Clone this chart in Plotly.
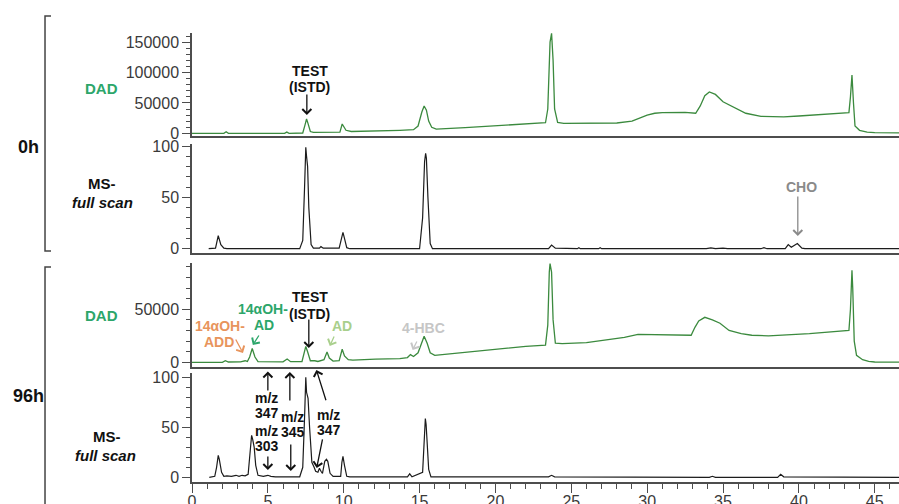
import plotly.graph_objects as go

# ---------------- data (retention time in min, signal) ----------------
t_dad_0h = [0, 2.1, 2.25, 2.4, 6.1, 6.25, 6.4, 7.3, 7.45, 7.55, 7.65, 7.8, 8.0,
            9.75, 9.9, 10.0, 10.15, 10.5, 12.0, 13.7, 14.6, 14.9, 15.15, 15.3, 15.45,
            15.6, 15.8, 16.1, 18.0, 20.0, 22.0, 23.3, 23.45, 23.6, 23.7, 23.8, 23.9,
            24.1, 24.5, 26.0, 28.0, 29.0, 29.5, 30.0, 30.5, 31.0, 32.5, 33.2, 33.5,
            33.8, 34.1, 34.5, 35.0, 35.8, 36.5, 37.5, 39.0, 40.0, 42.0, 43.3, 43.4,
            43.5, 43.6, 43.7, 44.0, 44.5, 45.0, 46.6]
dad_0h = [0, 0, 2500, 0, 0, 2000, 0, 500, 14000, 23500, 16000, 3000, 1500,
          2000, 15300, 11000, 5000, 3000, 3500, 5000, 6000, 12000, 35000, 45000, 38000,
          20000, 10000, 6800, 9500, 12500, 15500, 17400, 40000, 150000, 164500, 120000, 40000,
          18000, 16500, 16500, 17000, 20000, 25000, 30000, 33000, 34000, 34500, 33000, 45000,
          62000, 68000, 64000, 52000, 41500, 33000, 28000, 27000, 28500, 32000, 34000, 60000,
          96000, 50000, 12000, 5000, 2000, 1000, 800]

t_ms_0h = [1.1, 1.55, 1.73, 1.9, 2.1, 2.3, 7.1, 7.3, 7.42, 7.5, 7.55, 7.62, 7.7, 7.85,
           8.0, 8.4, 8.5, 8.65, 9.7, 9.85, 9.95, 10.05, 10.2, 10.4, 15.0, 15.2, 15.33,
           15.4, 15.45, 15.55, 15.7, 15.85, 23.5, 23.7, 23.95, 25.4, 25.5, 25.6, 26.8,
           26.9, 27.0, 33.9, 34.2, 34.5, 35.0, 35.3, 37.5, 37.7, 37.9, 39.1, 39.3, 39.5,
           39.9, 40.2, 40.4, 46.6]
ms_0h = [0, 0.5, 12.7, 4, 0.5, 0, 0, 8, 60, 98.7, 90, 80, 40, 4,
         0.5, 0.5, 2, 0.5, 0.5, 10, 16, 10, 1, 0, 0, 30, 85,
         93, 88, 50, 5, 0, 0, 3.6, 0.5, 0, 1, 0, 0,
         1, 0, 0, 0.8, 0, 0.5, 0, 0, 1, 0, 0, 4, 1.5,
         5, 0.5, 0, 0]

t_dad_96h = [0, 2.0, 2.2, 2.4, 3.2, 3.5, 3.65, 3.8, 3.97, 4.15, 4.35, 6.0, 6.27, 6.5,
             7.25, 7.4, 7.5, 7.62, 7.8, 8.1, 8.3, 8.7, 8.9, 9.05, 9.3, 9.7, 9.9, 10.05,
             10.3, 10.6, 12.1, 13.7, 14.2, 14.4, 14.6, 14.9, 15.15, 15.3, 15.5, 15.7,
             16.0, 18.0, 20.0, 22.0, 23.3, 23.45, 23.55, 23.6, 23.7, 23.8, 23.95, 24.4,
             26.0, 27.7, 28.5, 29.4, 30.5, 32.1, 32.9, 33.15, 33.4, 33.8, 34.3, 34.8,
             35.4, 36.2, 36.9, 38.0, 40.7, 43.3, 43.4, 43.5, 43.55, 43.65, 43.8, 44.2,
             44.6, 45.0, 46.6]
dad_96h = [0, 0, 1600, 300, 500, 1500, 800, 5000, 13000, 5000, 600, 500, 3100, 600,
           800, 9000, 15000, 10000, 1500, 1500, 800, 2500, 9800, 4000, 1200, 1500, 12300, 6000,
           2500, 2000, 3100, 3500, 4500, 7300, 5500, 9000, 20000, 24500, 18000, 9000,
           6600, 9500, 12500, 15000, 16300, 35000, 85000, 93000, 85000, 40000, 18000, 17600,
           18500, 22000, 23500, 26400, 26000, 26000, 25500, 33000, 39000, 42400, 40000, 36800,
           30000, 27000, 25500, 25000, 27000, 30000, 50000, 86800, 70000, 20000, 6600, 2500,
           1000, 300, 200]

t_ms_96h = [1.14, 1.5, 1.62, 1.73, 1.8, 1.95, 2.1, 2.3, 2.6, 2.9, 3.1, 3.3, 3.5, 3.7,
            3.8, 3.93, 4.0, 4.1, 4.2, 4.35, 4.7, 5.0, 5.2, 5.5, 7.1, 7.3, 7.42, 7.5,
            7.55, 7.65, 7.75, 7.9, 8.05, 8.15, 8.3, 8.4, 8.5, 8.6, 8.75, 8.86, 8.95,
            9.1, 9.3, 9.8, 9.88, 9.95, 10.05, 10.2, 10.4, 14.2, 14.35, 14.5, 15.2,
            15.32, 15.38, 15.43, 15.5, 15.6, 15.75, 23.5, 23.7, 23.9, 34.1, 34.3, 34.5,
            38.6, 38.8, 39.0, 46.6]
ms_96h = [0, 1, 10, 22, 18, 5, 1, 1.5, 1, 2, 1, 2, 1.5, 3,
          20, 42, 38, 30, 12, 2, 1, 2, 1, 0.5, 0.5, 10, 60, 100,
          85, 79, 50, 15, 10, 6, 5, 9, 6, 4, 16, 18, 16,
          4, 1, 1, 15, 21, 12, 1, 0.5, 0.5, 3.5, 0.5, 5,
          45, 58.7, 53, 35, 8, 0.5, 0.5, 2, 0.5, 0, 1, 0,
          0, 3, 0.5, 0]

x_tick_step = 5
time_labels = ["0h", "96h"]
detector_labels = ["DAD", "MS-", "full scan"]

# ---------------- styling ----------------
FONT = "Liberation Sans, Arial, sans-serif"
DAD_LINE = "#3b8a3e"
MS_LINE = "#1c1c1c"
AXIS = "#4d4d4d"
TICKFONT = dict(family=FONT, size=16, color="#3a3a3a")
LABEL_GREEN = "#2ca66a"
ORANGE = "#e8945c"
LIGHT_GREEN = "#a9cf8c"
LIGHT_GREY = "#c6c6c6"
MID_GREY = "#8a8a8a"

X_RANGE = [0, 46.6]

fig = go.Figure()
fig.add_trace(go.Scatter(x=t_dad_0h, y=dad_0h, xaxis="x", yaxis="y", mode="lines",
                         line=dict(color=DAD_LINE, width=1.3)))
fig.add_trace(go.Scatter(x=t_ms_0h, y=ms_0h, xaxis="x2", yaxis="y2", mode="lines",
                         line=dict(color=MS_LINE, width=1.2)))
fig.add_trace(go.Scatter(x=t_dad_96h, y=dad_96h, xaxis="x3", yaxis="y3", mode="lines",
                         line=dict(color=DAD_LINE, width=1.3)))
fig.add_trace(go.Scatter(x=t_ms_96h, y=ms_96h, xaxis="x4", yaxis="y4", mode="lines",
                         line=dict(color=MS_LINE, width=1.2)))


def xax(anchor, bottom=False):
    d = dict(range=X_RANGE, anchor=anchor, showgrid=False, zeroline=False,
             showline=True, linecolor=AXIS, linewidth=2, fixedrange=True,
             automargin=False)
    if bottom:
        d.update(ticks="outside", ticklen=9, tickwidth=1.3, tickcolor=AXIS,
                 tick0=0, dtick=x_tick_step, tickfont=TICKFONT,
                 ticklabelstandoff=-5,
                 minor=dict(dtick=1, ticks="outside", ticklen=5, tickwidth=1.3,
                            tickcolor=AXIS))
    else:
        d.update(showticklabels=False, ticks="")
    return d


def yax(anchor, domain, rng, dtick, minor):
    return dict(anchor=anchor, domain=domain, range=rng, showgrid=False,
                zeroline=False, showline=True, linecolor=AXIS, linewidth=1.5,
                ticks="outside", ticklen=8, tickwidth=1.3, tickcolor=AXIS,
                tick0=0, dtick=dtick, tickformat="d", tickfont=TICKFONT,
                minor=dict(dtick=minor, ticks="outside", ticklen=4, tickwidth=1.3,
                           tickcolor=AXIS),
                fixedrange=True, automargin=False)


fig.update_layout(
    width=899, height=504,
    margin=dict(l=192, r=0, t=33, b=22),
    paper_bgcolor="white", plot_bgcolor="white",
    showlegend=False,
    font=dict(family=FONT, color="#222"),
    xaxis=xax("y"), xaxis2=xax("y2"), xaxis3=xax("y3"), xaxis4=xax("y4", bottom=True),
    yaxis=yax("x", [0.7706, 1.0], [-4400, 165000], 50000, 10000),
    yaxis2=yax("x2", [0.5100, 0.7528], [-4.2, 102], 50, 10),
    yaxis3=yax("x3", [0.2561, 0.4878], [-4400, 93600], 50000, 10000),
    yaxis4=yax("x4", [0.0, 0.2428], [-4.7, 104.3], 50, 10),
)


def label(x, y, text, color="#111", size=14, xr="x", yr="y"):
    fig.add_annotation(x=x, y=y, xref=xr, yref=yr, text=f"<b>{text}</b>",
                       showarrow=False, xanchor="center", yanchor="middle",
                       font=dict(family=FONT, size=size, color=color))


def arrow(x, y, ax, ay, color="#111", xr="x", yr="y"):
    fig.add_annotation(x=x, y=y, ax=ax, ay=ay, xref=xr, yref=yr, axref=xr, ayref=yr,
                       text="", showarrow=True, arrowhead=4, arrowsize=1.35,
                       arrowwidth=1.3, arrowcolor=color, standoff=0, startstandoff=0)


# panel 1: 0h DAD
label(7.76, 102500, "TEST")
label(7.76, 76200, "(ISTD)")
arrow(7.57, 30100, 7.57, 66300)

# panel 2: 0h MS
label(40.2, 60.2, "CHO", color=MID_GREY, xr="x2", yr="y2")
arrow(39.93, 12.4, 39.93, 52.4, color=MID_GREY, xr="x2", yr="y2")

# panel 3: 96h DAD
label(1.84, 34200, "14αOH-", color=ORANGE, xr="x3", yr="y3")
label(1.78, 19100, "ADD", color=ORANGE, xr="x3", yr="y3")
arrow(3.36, 8800, 2.83, 22900, color=ORANGE, xr="x3", yr="y3")
label(4.67, 50300, "14αOH-", color=LABEL_GREEN, xr="x3", yr="y3")
label(4.74, 35200, "AD", color=LABEL_GREEN, xr="x3", yr="y3")
arrow(4.01, 16300, 4.47, 26700, color=LABEL_GREEN, xr="x3", yr="y3")
label(7.76, 61600, "TEST", xr="x3", yr="y3")
label(7.76, 45600, "(ISTD)", xr="x3", yr="y3")
arrow(7.7, 13500, 7.7, 41800, xr="x3", yr="y3")
label(9.87, 34200, "AD", color=LIGHT_GREEN, xr="x3", yr="y3")
arrow(9.08, 15400, 9.41, 25800, color=LIGHT_GREEN, xr="x3", yr="y3")
label(15.26, 32400, "4-HBC", color=LIGHT_GREY, xr="x3", yr="y3")
arrow(14.54, 11600, 14.87, 21000, color=LIGHT_GREY, xr="x3", yr="y3")

# panel 4: 96h MS
label(4.93, 79.3, "m/z", xr="x4", yr="y4")
label(4.93, 64.3, "347", xr="x4", yr="y4")
label(4.93, 46.3, "m/z", xr="x4", yr="y4")
label(4.93, 31.3, "303", xr="x4", yr="y4")
arrow(5.0, 105.8, 5.0, 85.3, xr="x4", yr="y4")
arrow(5.0, 7.3, 5.0, 22.3, xr="x4", yr="y4")
label(6.64, 60.3, "m/z", xr="x4", yr="y4")
label(6.64, 45.3, "345", xr="x4", yr="y4")
arrow(6.45, 105.3, 6.45, 75.3, xr="x4", yr="y4")
arrow(6.51, 6.3, 6.51, 34.3, xr="x4", yr="y4")
label(9.01, 62.3, "m/z", xr="x4", yr="y4")
label(9.01, 47.3, "347", xr="x4", yr="y4")
arrow(8.20, 107.3, 8.86, 75.6, xr="x4", yr="y4")
arrow(8.22, 9.3, 8.62, 39.3, xr="x4", yr="y4")

# left-hand group labels (paper coordinates)
label(-0.2306, 0.7461, time_labels[0], size=18, xr="paper", yr="paper")
label(-0.2306, 0.1915, time_labels[1], size=18, xr="paper", yr="paper")
label(-0.1273, 0.8753, detector_labels[0], color=LABEL_GREEN, size=15, xr="paper", yr="paper")
label(-0.1273, 0.3719, detector_labels[0], color=LABEL_GREEN, size=15, xr="paper", yr="paper")
label(-0.1273, 0.6659, detector_labels[1], size=15, xr="paper", yr="paper")
label(-0.1260, 0.6236, f"<i>{detector_labels[2]}</i>", size=15, xr="paper", yr="paper")
label(-0.1204, 0.1009, detector_labels[1], size=15, xr="paper", yr="paper")
label(-0.1218, 0.0601, f"<i>{detector_labels[2]}</i>", size=15, xr="paper", yr="paper")

# brackets
xb, xs = -0.2079, -0.1994
for yt, yb, serif_bottom in [(1.0379, 0.5145, True), (0.4788, -0.08, False)]:
    path = f"M {xs},{yt} L {xb},{yt} L {xb},{yb}"
    if serif_bottom:
        path += f" L {xs},{yb}"
    fig.add_shape(type="path", path=path, xref="paper", yref="paper",
                  line=dict(color="#444", width=1.5))

fig.write_html("out.html",
               config={"displayModeBar": False},
               post_script="document.body.style.margin='0';"
                           "document.body.style.overflow='hidden';")
